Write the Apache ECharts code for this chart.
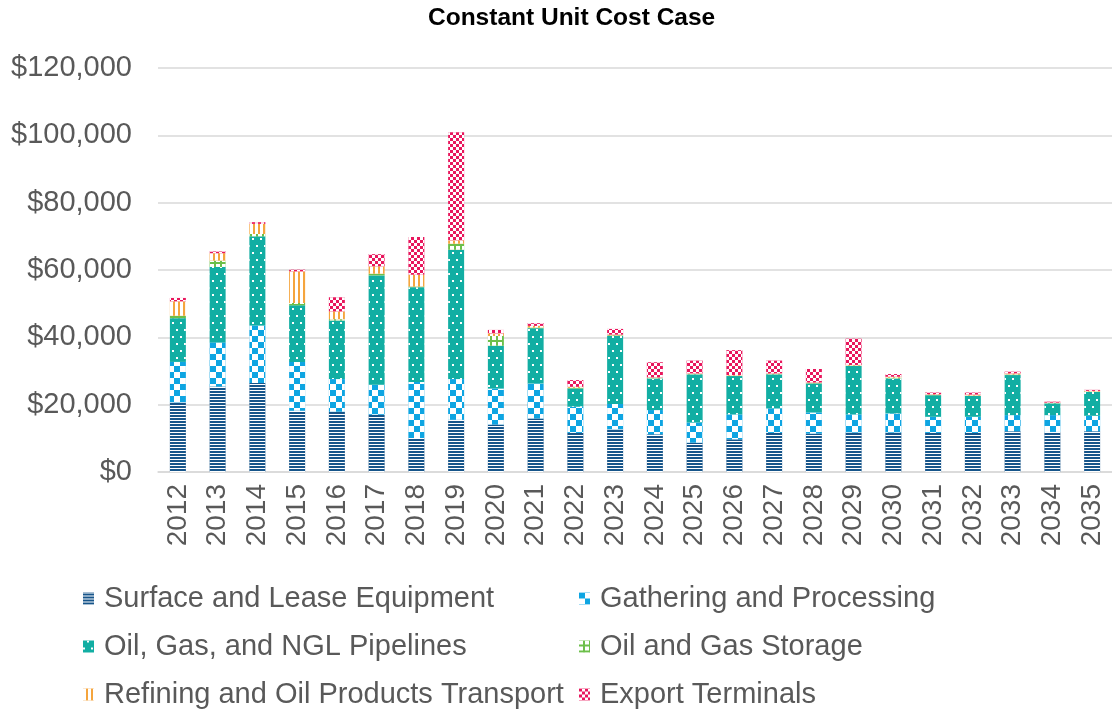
<!DOCTYPE html>
<html>
<head>
<meta charset="utf-8">
<script src="https://cdn.jsdelivr.net/npm/echarts@6/dist/echarts.min.js"></script>
<style>
html, body { margin: 0; padding: 0; background: #fff; }
#main { width: 1112px; height: 713px; }
</style>
</head>
<body>
<div id="main"></div>
<script>
var years = ['2012','2013','2014','2015','2016','2017','2018','2019','2020','2021','2022','2023',
	'2024','2025','2026','2027','2028','2029','2030','2031','2032','2033','2034','2035'];
var surface = [20700, 25400, 26400, 18200, 17900, 17000, 10100, 15500, 14100, 15900, 11600, 12700,
	11200, 8700, 9700, 11600, 11400, 11700, 11700, 11600, 11600, 12100, 11900, 12100];
var gathering = [12000, 13100, 17100, 14500, 9700, 8900, 16600, 12100, 10700, 10400, 7800, 7500,
	7200, 6000, 7400, 7300, 6300, 5400, 5700, 4800, 4800, 4800, 5000, 4600];
var pipelines = [13000, 22400, 26500, 16800, 17400, 32500, 28200, 38400, 12700, 16400, 5400, 20200,
	9400, 14300, 11400, 10100, 8600, 14400, 10400, 6400, 6200, 11900, 3500, 7100];
var storage = [700, 1900, 700, 700, 400, 500, 200, 1800, 2900, 200, 200, 200,
	200, 100, 100, 100, 100, 100, 200, 100, 100, 200, 100, 100];
var refining = [4300, 2200, 3000, 9400, 2300, 2200, 3500, 1000, 800, 500, 300, 200,
	100, 200, 200, 200, 200, 200, 300, 200, 300, 300, 100, 200];
var exportTerm = [1000, 500, 500, 500, 4200, 3600, 11200, 32100, 1000, 800, 2000, 1700,
	4500, 3800, 7400, 3800, 4000, 7800, 800, 500, 600, 500, 300, 300];

var font = 'Liberation Sans, Arial, sans-serif';
var grey = '#595959';

// patterns painted in white over the fill colour
function pattern(dx, dy) {
	return { symbol: 'rect', symbolSize: 1, symbolKeepAspect: false, color: '#ffffff', dashArrayX: dx, dashArrayY: dy };
}

function bar(name, data, color, decal) {
	return {
		name: name,
		type: 'bar',
		stack: 'total',
		data: data,
		barWidth: 16,
		itemStyle: { color: color, decal: decal },
		emphasis: { disabled: true }
	};
}

function legendCol(left, names) {
	return {
		orient: 'vertical',
		left: left,
		top: 584,
		padding: 0,
		itemWidth: 11,
		itemHeight: 12,
		itemGap: 19,
		icon: 'rect',
		data: names,
		textStyle: { fontFamily: font, fontSize: 29, lineHeight: 29, color: grey, padding: [0, 0, 0, 5] }
	};
}

var myChart = echarts.init(document.getElementById('main'));
var option = {
	animation: false,
	backgroundColor: '#ffffff',
	title: {
		text: 'Constant Unit Cost Case',
		left: 423,
		top: 1,
		textStyle: { fontFamily: font, fontWeight: 'bold', fontSize: 24.5, color: '#000' }
	},
	legend: [
		legendCol(83, ['Surface and Lease Equipment', 'Oil, Gas, and NGL Pipelines', 'Refining and Oil Products Transport']),
		legendCol(579, ['Gathering and Processing', 'Oil and Gas Storage', 'Export Terminals'])
	],
	grid: { left: 158, right: -3, top: 68, bottom: 241, containLabel: false },
	xAxis: {
		type: 'category',
		data: years,
		axisLine: { lineStyle: { color: '#d9d9d9', width: 1.5 } },
		axisTick: { show: false },
		axisLabel: { rotate: 90, margin: 12, fontFamily: font, fontSize: 28, color: grey }
	},
	yAxis: {
		type: 'value',
		min: 0,
		max: 120000,
		interval: 20000,
		axisLine: { show: false },
		axisTick: { show: false },
		splitLine: { lineStyle: { color: '#d9d9d9', width: 1.5 } },
		axisLabel: {
			margin: 26,
			fontFamily: font,
			fontSize: 29,
			color: grey,
			formatter: function (v) { return '$' + v.toLocaleString('en-US'); }
		}
	},
	series: [
		bar('Surface and Lease Equipment', surface, '#17558a', pattern([[1, 0]], [1, 2])),
		bar('Gathering and Processing', gathering, '#0ea5e2', pattern([[6, 6], [0, 6, 6, 0]], [6, 0])),
		bar('Oil, Gas, and NGL Pipelines', pipelines, '#12aea3', pattern([[2, 6], [0, 4, 2, 2]], [2, 5])),
		bar('Oil and Gas Storage', storage, '#6cbf4a', pattern([[4, 2]], [4, 2])),
		bar('Refining and Oil Products Transport', refining, '#f5a53e', pattern([[3, 2]], [1, 0])),
		bar('Export Terminals', exportTerm, '#e8175d', pattern([[3, 3], [0, 3, 3, 0]], [3, 0]))
	]
};
if (option && typeof option === "object") {
	myChart.setOption(option, true);
}
</script>
</body>
</html>
